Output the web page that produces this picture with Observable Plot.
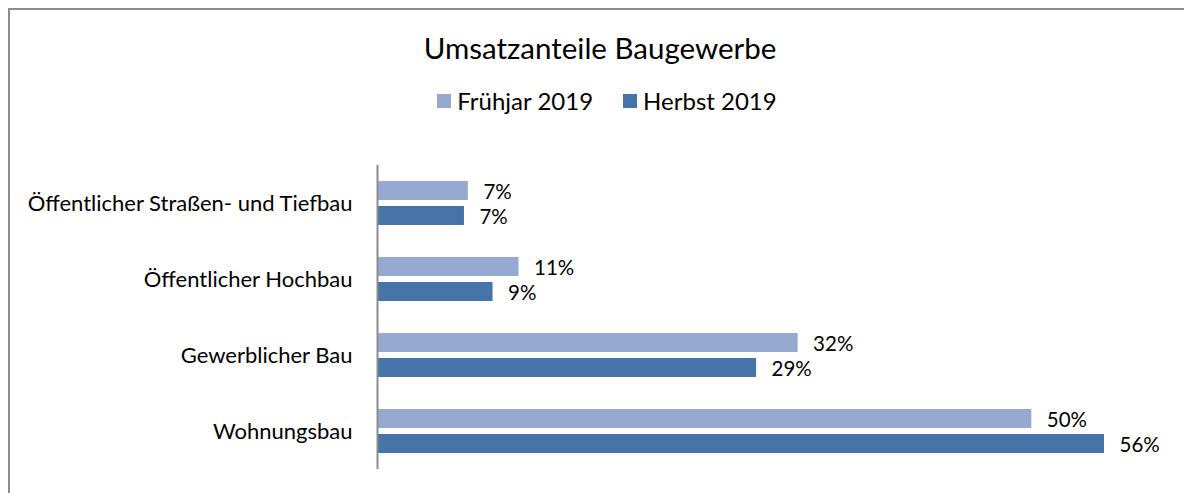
<!DOCTYPE html>
<html>
<head>
<meta charset="utf-8">
<script src="https://cdn.jsdelivr.net/npm/d3@7"></script>
<script src="https://cdn.jsdelivr.net/npm/@observablehq/plot@0.6"></script>
<style>
  html, body { margin: 0; padding: 0; background: #fff; }
  body { width: 1184px; height: 493px; overflow: hidden; position: relative; font-family: Lato, "Open Sans", sans-serif; color: #000; }
  #frame { position: absolute; left: 8px; top: 8px; width: 1200px; height: 520px; border: 2px solid #8c8c8c; box-sizing: border-box; }
  #title { position: absolute; left: 0; width: 1200px; top: 30px; text-align: center; font-size: 29.5px; line-height: 36px; }
  #legend { position: absolute; left: 0; width: 1214px; top: 86px; display: flex; justify-content: center; gap: 30px; font-size: 24px; line-height: 30px; }
  #legend span.item { display: inline-flex; align-items: center; gap: 6px; }
  #legend span.sw { display: inline-block; width: 14px; height: 14px; }
  #chart { position: absolute; left: 0; top: 0; }
</style>
</head>
<body>
<div id="frame"></div>
<div id="chart"></div>
<div id="title"></div>
<div id="legend"></div>
<script>
const titleText = "Umsatzanteile Baugewerbe";
const categories = ["Öffentlicher Straßen- und Tiefbau", "Öffentlicher Hochbau", "Gewerblicher Bau", "Wohnungsbau"];
const series = ["Frühjar 2019", "Herbst 2019"];
const fruehjahr = [7.0, 10.9, 32.4, 50.4];
const herbst = [6.7, 8.9, 29.2, 56.0];
const colors = ["#95a9d1", "#4674a8"];

const data = [];
categories.forEach((c, i) => {
  data.push({category: c, series: series[0], value: fruehjahr[i]});
  data.push({category: c, series: series[1], value: herbst[i]});
});

document.getElementById("title").textContent = titleText;
const legend = document.getElementById("legend");
series.forEach((s, i) => {
  const item = document.createElement("span");
  item.className = "item";
  const sw = document.createElement("span");
  sw.className = "sw";
  sw.style.background = colors[i];
  const t = document.createElement("span");
  t.textContent = s;
  item.appendChild(sw);
  item.appendChild(t);
  legend.appendChild(item);
});

const chart = Plot.plot({
  width: 1184,
  height: 493,
  marginTop: 165,
  marginBottom: 24,
  marginLeft: 377,
  marginRight: 80,
  style: {fontFamily: "Lato, 'Open Sans', sans-serif", color: "#000", background: "transparent"},
  x: {domain: [0, 56], axis: null},
  y: {domain: series, paddingInner: 0.23, paddingOuter: 0.58, axis: null},
  fy: {domain: categories, padding: 0, label: null},
  color: {domain: series, range: colors},
  marks: [
    Plot.barX(data, {x: "value", y: "series", fy: "category", fill: "series"}),
    Plot.text(data, {x: "value", y: "series", fy: "category", text: d => Math.round(d.value) + "%", textAnchor: "start", dx: 15, dy: 1, fontSize: 20.5, fill: "#000"}),
    Plot.ruleX([0], {stroke: "#8c8c8c", strokeWidth: 2}),
    Plot.axisFy({anchor: "left", tickSize: 0, tickPadding: 25, fontSize: 22, label: null})
  ]
});
document.getElementById("chart").appendChild(chart);
</script>
</body>
</html>
